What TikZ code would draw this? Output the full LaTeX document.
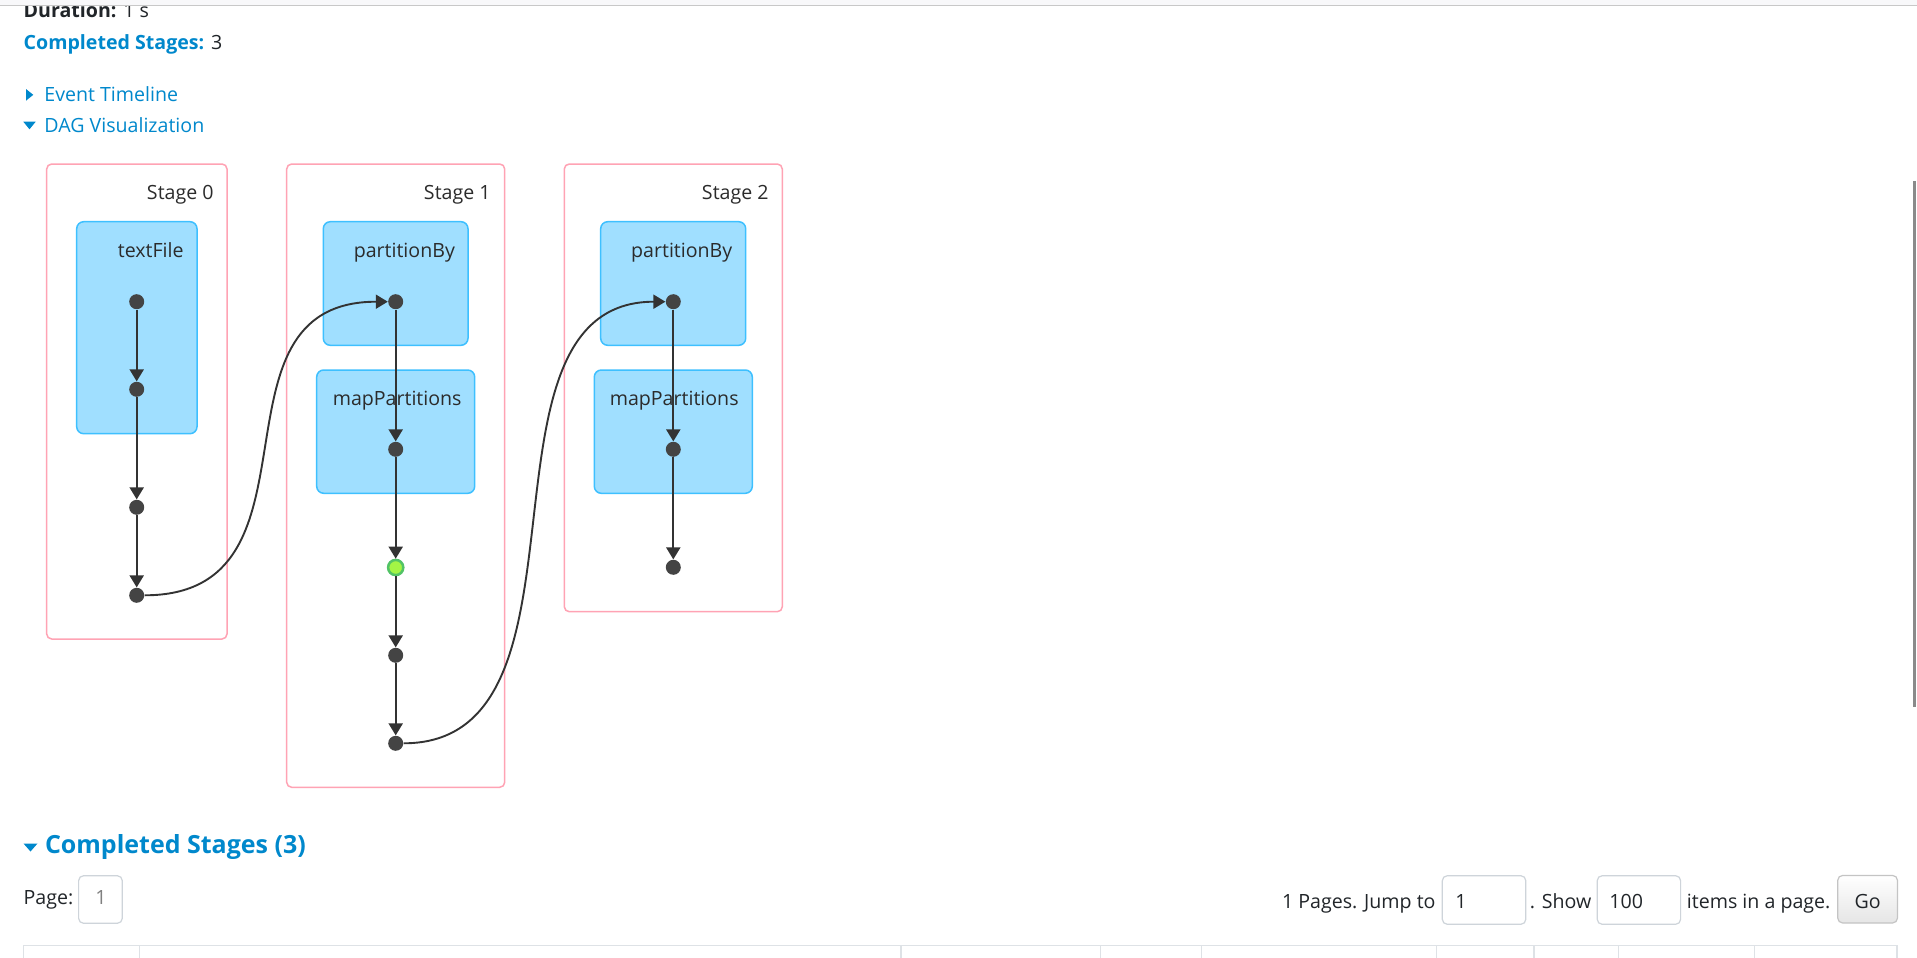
\documentclass[tikz,border=0pt]{standalone}
\usepackage{fontspec}
\setmainfont{Open Sans}
\usetikzlibrary{arrows.meta,fit}
\definecolor{linkblue}{HTML}{0088CC}
\definecolor{bodytext}{HTML}{212529}
\definecolor{labeltext}{HTML}{2B2B2B}
\definecolor{stagepink}{HTML}{FFA3B4}
\definecolor{clusterfill}{HTML}{A0DFFF}
\definecolor{clusterline}{HTML}{3EC0FF}
\definecolor{dotgray}{HTML}{444444}
\definecolor{edgegray}{HTML}{333333}
\definecolor{cachedfill}{HTML}{A3F545}
\definecolor{cachedline}{HTML}{52C366}
\definecolor{inputline}{HTML}{CED4DA}
\definecolor{tableline}{HTML}{DEE2E6}
\definecolor{topbarfill}{HTML}{F8F8FA}
\definecolor{topbarline}{HTML}{C8C8C8}
\definecolor{scrollgray}{HTML}{8A8A8A}
\definecolor{btnline}{HTML}{C4C4C4}
\begin{document}
\begin{tikzpicture}[x=0.5pt,y=-0.5pt,
  txt/.style={inner sep=0pt,text=bodytext,font=\fontsize{9.8}{11}\selectfont},
  linktxt/.style={txt,text=linkblue},
  lbl/.style={inner sep=0pt,text=labeltext,font=\fontsize{9.8}{11}\selectfont,anchor=base east},
  stagebox/.style={draw=stagepink,line width=0.75pt,fill=white,rounded corners=2.5pt,inner sep=0pt},
  clusterbox/.style={draw=clusterline,line width=0.75pt,fill=clusterfill,rounded corners=3.5pt,inner sep=0pt},
  dot/.style={circle,fill=dotgray,inner sep=0pt,minimum size=7.5pt},
  cached/.style={circle,fill=cachedfill,draw=cachedline,line width=1.25pt,inner sep=0pt,minimum size=7.6pt},
  edge/.style={draw=edgegray,line width=1pt,-{Triangle[length=6pt,width=7pt]}},
  crossedge/.style={draw=edgegray,line width=0.95pt,-{Triangle[length=6pt,width=7pt]}},
  inbox/.style={draw=inputline,line width=0.6pt,rounded corners=2.5pt,inner sep=0pt},
  tbl/.style={draw=tableline,line width=0.7pt}
]
\useasboundingbox (0,0) rectangle (1917,958);
\fill[white] (0,0) rectangle (1917,958);

% header texts
\node[txt,anchor=base west] (dur) at (23.3,17.3) {\textbf{Duration:} 1 s};
\node[txt,anchor=base west] (comp) at (23.3,49) {\textcolor{linkblue}{\textbf{Completed Stages:}} 3};
\fill[linkblue] (26,89) -- (33.3,94.85) -- (26,100.7) -- cycle;
\node[linktxt,anchor=base west] (evt) at (44,101.7) {Event Timeline};
\fill[linkblue] (23.3,121.7) -- (35.7,121.7) -- (29.5,129.3) -- cycle;
\node[linktxt,anchor=base west] (dag) at (44,132.7) {DAG Visualization};

% top bar (covers top of first line)
\fill[topbarfill] (0,0) rectangle (1917,5);
\draw[topbarline,line width=0.75pt] (0,5.5) -- (1917,5.5);

% stage boxes
\node[stagebox,fit={(46.7,164) (227,639)}] (st0) {};
\node[stagebox,fit={(286.7,164) (504.7,787.3)}] (st1) {};
\node[stagebox,fit={(564.3,164) (782.3,611.7)}] (st2) {};
\node[lbl] (st0l) at (214,199.5) {Stage 0};
\node[lbl] (st1l) at (491,199.5) {Stage 1};
\node[lbl] (st2l) at (769,199.5) {Stage 2};

% cluster boxes
\node[clusterbox,fit={(76.7,221.7) (197,433.7)}] (c0) {};
\node[clusterbox,fit={(323.3,221.7) (468,345.3)}] (c1a) {};
\node[clusterbox,fit={(316.7,370) (474.7,493.3)}] (c1b) {};
\node[clusterbox,fit={(600.7,221.7) (745.7,345.3)}] (c2a) {};
\node[clusterbox,fit={(594.3,370) (752.3,493.3)}] (c2b) {};
\node[lbl] (c0l) at (184,257.3) {textFile};
\node[lbl] (c1al) at (455.3,257.3) {partitionBy};
\node[lbl] (c1bl) at (462,405) {mapPartitions};
\node[lbl] (c2al) at (732.7,257.3) {partitionBy};
\node[lbl] (c2bl) at (739,405) {mapPartitions};

% dots
\node[dot] (s0a) at (136.7,301.7) {};
\node[dot] (s0b) at (136.7,389.3) {};
\node[dot] (s0c) at (136.7,507.3) {};
\node[dot] (s0d) at (136.7,595.3) {};
\node[dot] (s1a) at (395.7,301.7) {};
\node[dot] (s1b) at (395.7,449.3) {};
\node[cached] (s1c) at (395.7,567.5) {};
\node[dot] (s1d) at (395.7,655.3) {};
\node[dot] (s1e) at (395.7,743.3) {};
\node[dot] (s2a) at (673.3,301.7) {};
\node[dot] (s2b) at (673.3,449.3) {};
\node[dot] (s2c) at (673.3,567.3) {};

% edges
\draw[edge] (s0a) -- (s0b);
\draw[edge] (s0b) -- (s0c);
\draw[edge] (s0c) -- (s0d);
\draw[edge] (s1a) -- (s1b);
\draw[edge] (s1b) -- (s1c);
\draw[edge] (s1c) -- (s1d);
\draw[edge] (s1d) -- (s1e);
\draw[edge] (s2a) -- (s2b);
\draw[edge] (s2b) -- (s2c);
\draw[crossedge] (s0d.east) .. controls +(190,0) and +(-190,0) .. (s1a.west);
\draw[crossedge] (s1e.east) .. controls +(205,0) and +(-205,0) .. (s2a.west);

% completed stages heading
\fill[linkblue] (23.5,843.5) -- (37.5,843.5) -- (30.5,851.5) -- cycle;
\node[linktxt,anchor=base west,font=\fontsize{12.5}{14}\selectfont\bfseries] (cs) at (44.6,853.5) {Completed Stages (3)};

% pagination
\node[txt,anchor=base west] (page) at (23.2,904) {Page:};
\node[inbox,fit={(78.6,875.7) (122.3,923.3)}] (pbox) {};
\node[txt,text=gray,anchor=base] (pnum) at (101,904) {1};
\node[txt,anchor=base west] (pages) at (1281.7,908.3) {1 Pages. Jump to};
\node[inbox,fit={(1442.3,875.7) (1525.8,924.3)}] (jbox) {};
\node[txt,anchor=base west] (jnum) at (1455,908.3) {1};
\node[txt,anchor=base west] (show) at (1529.5,908.3) {. Show};
\node[inbox,fit={(1597.2,875.7) (1680.6,924.3)}] (sbox) {};
\node[txt,anchor=base west] (snum) at (1609,908.3) {100};
\node[txt,anchor=base west] (items) at (1686.5,908.3) {items in a page.};
\node[draw=btnline,line width=0.6pt,rounded corners=2.5pt,inner sep=0pt,top color=white,bottom color=black!10,fit={(1837.7,875.4) (1897.5,923)}] (go) {};
\node[txt,anchor=base] (gol) at (1867.6,908.3) {Go};

% table header lines
\draw[tbl] (23.3,945.3) -- (1897,945.3);
\foreach \xx in {23.3,139.6,900.8,1100.3,1201.3,1436.5,1533.8,1618.3,1754.3,1897} {
  \draw[tbl] (\xx,945.3) -- (\xx,958);
}

% scrollbar
\fill[scrollgray] (1912.7,181) rectangle (1915.7,707);
\end{tikzpicture}
\end{document}
